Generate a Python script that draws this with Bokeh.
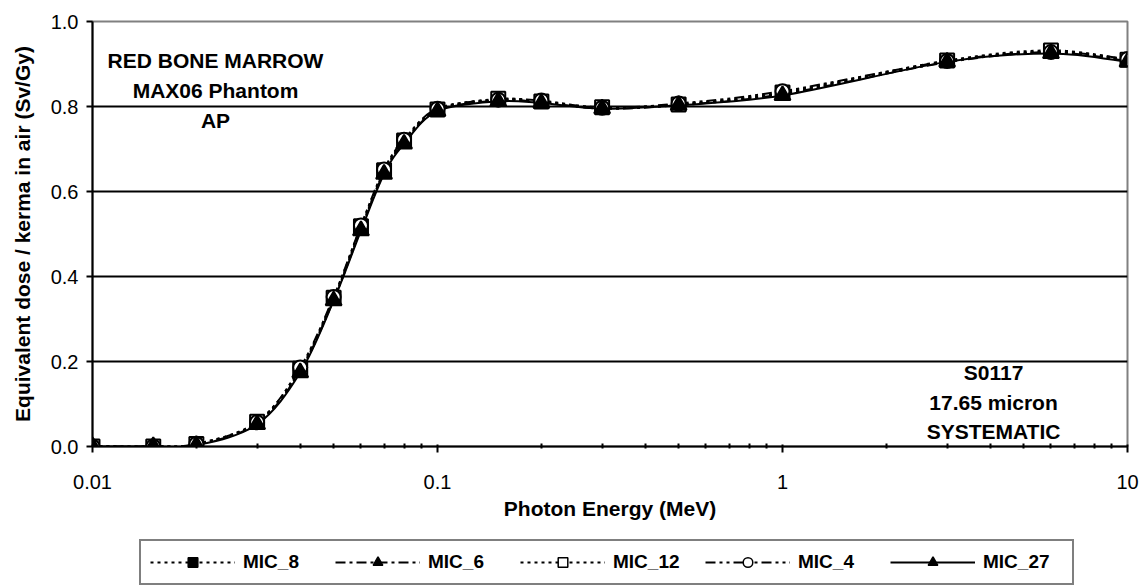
import numpy as np
from bokeh.plotting import figure
from bokeh.layouts import column
from bokeh.models import (Range1d, FixedTicker, CustomJSTickFormatter, PrintfTickFormatter,
                          Legend, LegendItem, Label)
from bokeh.embed import file_html
from bokeh.resources import INLINE

# ---------------- data ----------------
energy = [0.01, 0.015, 0.02, 0.03, 0.04, 0.05, 0.06, 0.07, 0.08, 0.1,
          0.15, 0.2, 0.3, 0.5, 1, 3, 6, 10]
mic_8 = [0.0, 0.0, 0.005, 0.055, 0.180, 0.347, 0.514, 0.647, 0.717, 0.791,
         0.815, 0.811, 0.796, 0.804, 0.831, 0.906, 0.929, 0.908]
mic_6 = [0.0, 0.0, 0.004, 0.054, 0.178, 0.345, 0.512, 0.645, 0.715, 0.790,
         0.814, 0.810, 0.795, 0.803, 0.829, 0.904, 0.927, 0.907]
mic_12 = [0.0, 0.0, 0.006, 0.058, 0.183, 0.350, 0.518, 0.650, 0.720, 0.793,
          0.818, 0.812, 0.798, 0.805, 0.833, 0.908, 0.932, 0.910]
mic_4 = [0.0, 0.0, 0.006, 0.057, 0.186, 0.352, 0.520, 0.652, 0.722, 0.795,
         0.816, 0.814, 0.797, 0.807, 0.836, 0.907, 0.928, 0.912]
mic_27 = [0.0, 0.0, 0.003, 0.052, 0.174, 0.343, 0.508, 0.641, 0.712, 0.789,
          0.812, 0.808, 0.795, 0.803, 0.826, 0.905, 0.925, 0.905]

x_ticks = [0.01, 0.1, 1, 10]
y_ticks = [0.0, 0.2, 0.4, 0.6, 0.8, 1.0]
grid_ticks = [0.2, 0.4, 0.6, 0.8]

title_lines = ["RED BONE MARROW", "MAX06 Phantom", "AP"]
info_lines = ["S0117", "17.65 micron", "SYSTEMATIC"]

FONT = "Liberation Sans"


def smooth(x, y):
    """Excel-like smoothing: cubic Bezier segments between consecutive points
    (control points computed in log-x / linear-y space)."""
    lx = np.log10(np.asarray(x, dtype=float))
    yy = np.asarray(y, dtype=float)
    n = len(lx)
    px = np.concatenate([[lx[0]], lx, [lx[-1]]])
    py = np.concatenate([[yy[0]], yy, [yy[-1]]])
    c1x = px[1:n] + (px[2:n + 1] - px[0:n - 1]) / 6
    c1y = py[1:n] + (py[2:n + 1] - py[0:n - 1]) / 6
    c2x = px[2:n + 1] - (px[3:n + 2] - px[1:n]) / 6
    c2y = py[2:n + 1] - (py[3:n + 2] - py[1:n]) / 6
    return dict(x0=10 ** lx[:-1], y0=yy[:-1], x1=10 ** lx[1:], y1=yy[1:],
                cx0=10 ** c1x, cy0=c1y, cx1=10 ** c2x, cy1=c2y)


series = [
    # name, values, dash, marker, size, fill
    ("MIC_8", mic_8, "3 4", "square", 6, "black"),
    ("MIC_6", mic_6, "10 4 3 4", "triangle", 7, "black"),
    ("MIC_12", mic_12, "3 4", "square", 14, "white"),
    ("MIC_4", mic_4, "10 4 3 4 3 4", "circle", 14, "white"),
    ("MIC_27", mic_27, "solid", "triangle", 16, "black"),
]

# ---------------- main plot ----------------
p = figure(width=1140, height=535, x_axis_type="log",
           x_range=Range1d(0.01, 10), y_range=Range1d(0, 1.0),
           output_backend="svg", toolbar_location=None,
           min_border_left=92, min_border_right=13, min_border_top=21,
           min_border_bottom=89)

p.background_fill_color = "white"
p.border_fill_color = "white"
p.outline_line_color = "#808080"
p.outline_line_width = 2

p.xgrid.visible = False
p.ygrid.ticker = FixedTicker(ticks=grid_ticks)
p.ygrid.grid_line_color = "black"
p.ygrid.grid_line_width = 2

minor = [k * 10.0 ** e for e in (-2, -1, 0) for k in range(2, 10)]
p.xaxis.ticker = FixedTicker(ticks=x_ticks, minor_ticks=minor)
p.xaxis.formatter = CustomJSTickFormatter(code="return tick.toString()")
p.yaxis.ticker = FixedTicker(ticks=y_ticks)
p.yaxis.formatter = PrintfTickFormatter(format="%.1f")

for ax in (p.xaxis[0], p.yaxis[0]):
    ax.axis_line_color = "black"
    ax.axis_line_width = 2
    ax.major_tick_line_color = "black"
    ax.major_tick_line_width = 2
    ax.minor_tick_line_color = "black"
    ax.minor_tick_line_width = 2
    ax.major_label_text_font = FONT
    ax.major_label_text_font_size = "20px"
    ax.major_label_text_color = "black"
    ax.axis_label_text_font = FONT
    ax.axis_label_text_font_style = "bold"
    ax.axis_label_text_font_size = "21px"
    ax.axis_label_text_color = "black"

p.xaxis.axis_label = "Photon Energy (MeV)"
p.xaxis.major_tick_in = 2
p.xaxis.major_tick_out = 6
p.xaxis.minor_tick_in = 3
p.xaxis.minor_tick_out = 2
p.xaxis.major_label_standoff = 22
p.xaxis.axis_label_standoff = 5

p.yaxis.axis_label = "Equivalent dose / kerma in air (Sv/Gy)"
p.yaxis.major_tick_in = 0
p.yaxis.major_tick_out = 6
p.yaxis.minor_tick_line_color = None
p.yaxis.major_label_standoff = 8
p.yaxis.axis_label_standoff = 14

for name, vals, dash, marker, size, fill in series:
    p.bezier(line_color="black", line_width=2, line_dash=dash,
             **smooth(energy, vals))
for name, vals, dash, marker, size, fill in series:
    p.scatter(energy, vals, marker=marker, size=size, fill_color=fill,
              line_color="black", line_width=2)

for i, t in enumerate(title_lines):
    p.add_layout(Label(x=0.02273, y=0.908 - 0.071 * i, text=t,
                       text_align="center", text_baseline="middle",
                       text_font=FONT, text_font_style="bold",
                       text_font_size="21px", text_color="black"))
for i, t in enumerate(info_lines):
    p.add_layout(Label(x=4.09, y=0.174 - 0.0695 * i, text=t,
                       text_align="center", text_baseline="middle",
                       text_font=FONT, text_font_style="bold",
                       text_font_size="21px", text_color="black"))

# ---------------- legend strip (same series, view range excludes data) ----------------
q = figure(width=1140, height=50, x_axis_type="log",
           x_range=Range1d(0.01, 10), y_range=Range1d(5, 6),
           output_backend="svg", toolbar_location=None,
           x_axis_location=None, y_axis_location=None,
           min_border_left=0, min_border_right=0, min_border_top=0,
           min_border_bottom=0)
q.outline_line_color = None
q.grid.visible = False
q.background_fill_color = "white"
q.border_fill_color = "white"

items = []
for name, vals, dash, marker, size, fill in series:
    ln = q.bezier(line_color="black", line_width=2, line_dash=dash,
                  **smooth(energy, vals))
    mk = q.scatter(energy, vals, marker=marker, size=size, fill_color=fill,
                   line_color="black", line_width=1.5)
    items.append(LegendItem(label=name, renderers=[ln, mk]))

legend = Legend(items=items, orientation="horizontal", location=(47, 0),
                border_line_color="black", border_line_width=2,
                background_fill_color="white", background_fill_alpha=1.0,
                label_text_font=FONT, label_text_font_style="bold",
                label_text_font_size="19px", label_text_color="black",
                glyph_width=85, glyph_height=24, label_standoff=8,
                label_width=80, spacing=12, padding=9, margin=0)
q.add_layout(legend, "center")

layout = column(p, q, spacing=0)
open("out.html", "w").write(file_html(layout, INLINE))
